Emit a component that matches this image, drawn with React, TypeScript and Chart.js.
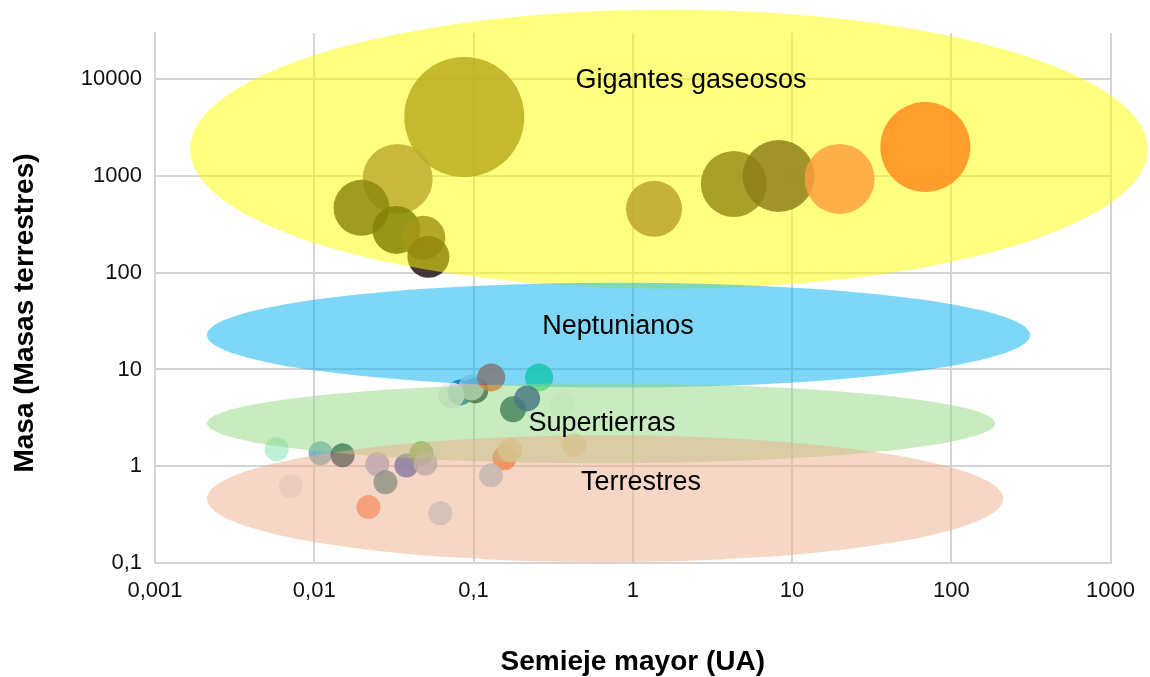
import React, { useEffect, useRef } from 'react';
import { Chart, registerables } from 'chart.js';

Chart.register(...registerables);

// Bubbles: semieje mayor (UA), masa (masas terrestres), radio (px)
const semiejeMayor = [
  0.0875, 0.0334, 0.0198, 0.0328, 0.0484, 0.0521, 1.36, 4.31, 8.24, 19.9, 68.7,
  0.0826, 0.1026, 0.0726, 0.0968, 0.129, 0.258, 0.177, 0.217, 0.36,
  0.429, 0.156, 0.17, 0.129, 0.00581, 0.01096, 0.01507, 0.00711, 0.0249,
  0.0379, 0.0471, 0.0499, 0.028, 0.0219, 0.0619,
];
const masa = [
  4060, 931, 468, 277, 230, 146, 457, 827, 1000, 931, 1990,
  5.79, 6.08, 5.4, 6.52, 8.27, 8.27, 3.87, 5.02, 4.26,
  1.65, 1.21, 1.46, 0.807, 1.5, 1.36, 1.3, 0.622, 1.05,
  1.02, 1.36, 1.07, 0.684, 0.378, 0.327,
];
const radio = [
  60, 35, 28, 24, 22, 21, 28, 33, 36, 35, 45,
  13, 13, 13, 13, 14, 14, 13, 13, 13,
  12, 12, 12, 12, 12, 12, 12, 12, 12,
  12, 12, 12, 12, 12, 12,
];
const colores = [
  'rgba(119,90,61,0.85)', 'rgba(126,90,96,0.85)', 'rgba(31,20,37,0.85)', 'rgba(8,8,14,0.85)',
  'rgba(73,49,49,0.85)', 'rgba(37,20,26,0.85)', 'rgba(120,73,90,0.85)', 'rgba(49,31,49,0.85)',
  'rgba(31,0,49,0.85)', 'rgba(249,67,126,0.85)', 'rgba(255,26,61,0.85)',
  'rgba(0,73,143,0.85)', 'rgba(0,26,26,0.85)', 'rgba(232,232,244,0.85)', 'rgba(214,207,214,0.85)',
  'rgba(255,66,2,0.85)', 'rgba(49,218,120,0.85)', 'rgba(0,55,62,0.85)', 'rgba(0,32,131,0.85)',
  'rgba(243,248,239,0.85)',
  'rgba(237,214,167,0.85)', 'rgba(255,96,14,0.85)', 'rgba(237,208,155,0.85)', 'rgba(155,196,214,0.85)',
  'rgba(178,237,208,0.85)', 'rgba(108,167,190,0.85)', 'rgba(0,49,61,0.85)', 'rgba(232,232,237,0.85)',
  'rgba(149,161,214,0.85)', 'rgba(43,79,179,0.85)', 'rgba(73,167,43,0.85)', 'rgba(149,173,190,0.85)',
  'rgba(55,126,131,0.85)', 'rgba(255,131,84,0.85)', 'rgba(178,208,226,0.85)',
];

const xTickValues = [0.001, 0.01, 0.1, 1, 10, 100, 1000];
const xTickLabels = ['0,001', '0,01', '0,1', '1', '10', '100', '1000'];
const yTickValues = [0.1, 1, 10, 100, 1000, 10000];
const yTickLabels = ['0,1', '1', '10', '100', '1000', '10000'];

// Regions (in data units)
const regionNames = ['Gigantes gaseosos', 'Neptunianos', 'Supertierras', 'Terrestres'];
const regionXMin = [0.00166, 0.00212, 0.00212, 0.00212];
const regionXMax = [1714, 312.6, 188.8, 212];
const regionYMin = [68.4, 6.52, 1.074, 0.102];
const regionYMax = [52500, 78.9, 7.18, 2.09];
const regionLabelX = [2.32, 0.807, 0.641, 1.125];
const regionLabelY = [9770, 27.8, 2.77, 0.684];
const regionColors = [
  'rgba(255,255,0,0.5)',
  'rgba(0,176,240,0.5)',
  'rgba(145,215,129,0.5)',
  'rgba(237,173,139,0.5)',
];

const FONT = '"Liberation Sans", Arial, sans-serif';
const GRID = '#d4d4d4';

const regionsPlugin = {
  id: 'regions',
  afterDatasetsDraw(chart: any) {
    const { ctx } = chart;
    const xs = chart.scales.x;
    const ys = chart.scales.y;
    ctx.save();
    for (let i = 0; i < regionNames.length; i++) {
      const x0 = xs.getPixelForValue(regionXMin[i]);
      const x1 = xs.getPixelForValue(regionXMax[i]);
      const y0 = ys.getPixelForValue(regionYMin[i]);
      const y1 = ys.getPixelForValue(regionYMax[i]);
      ctx.beginPath();
      ctx.ellipse((x0 + x1) / 2, (y0 + y1) / 2, Math.abs(x1 - x0) / 2, Math.abs(y1 - y0) / 2, 0, 0, Math.PI * 2);
      ctx.fillStyle = regionColors[i];
      ctx.fill();
    }
    ctx.font = `27px ${FONT}`;
    ctx.fillStyle = '#000';
    ctx.textAlign = 'center';
    ctx.textBaseline = 'middle';
    for (let i = 0; i < regionNames.length; i++) {
      ctx.fillText(regionNames[i], xs.getPixelForValue(regionLabelX[i]), ys.getPixelForValue(regionLabelY[i]));
    }
    // y axis title
    ctx.save();
    ctx.translate(25, 313);
    ctx.rotate(-Math.PI / 2);
    ctx.font = `bold 28px ${FONT}`;
    ctx.fillText('Masa (Masas terrestres)', 0, 0);
    ctx.restore();
    ctx.restore();
  },
};

export default function App() {
  const ref = useRef<HTMLCanvasElement | null>(null);
  useEffect(() => {
    if (!ref.current) return;
    const data = semiejeMayor.map((x, i) => ({ x, y: masa[i], r: radio[i] }));
    const chart = new Chart(ref.current, {
      type: 'bubble',
      data: {
        datasets: [
          {
            label: 'Exoplanetas',
            data,
            backgroundColor: colores,
            borderWidth: 0,
          },
        ],
      },
      options: {
        animation: false,
        responsive: false,
        devicePixelRatio: 1,
        layout: { autoPadding: false, padding: { top: 33, right: 37, left: 0, bottom: 0 } },
        plugins: { legend: { display: false }, tooltip: { enabled: false } },
        scales: {
          x: {
            type: 'logarithmic',
            min: 0.001,
            max: 1000,
            afterBuildTicks: (s: any) => {
              s.ticks = xTickValues.map((v) => ({ value: v }));
            },
            afterFit: (s: any) => {
              s.height = 114;
            },
            ticks: {
              callback: (_v: any, i: number) => xTickLabels[i],
              font: { size: 22, family: FONT },
              color: '#111',
              padding: 15,
              maxRotation: 0,
              autoSkip: false,
            },
            grid: { color: GRID, lineWidth: 2, drawTicks: false },
            border: { color: GRID, width: 2 },
            title: {
              display: true,
              text: 'Semieje mayor (UA)',
              font: { size: 28, weight: 'bold', family: FONT },
              color: '#000',
              padding: { top: 0, bottom: -2 },
            },
          },
          y: {
            type: 'logarithmic',
            min: 0.1,
            max: 30000,
            afterBuildTicks: (s: any) => {
              s.ticks = yTickValues.map((v) => ({ value: v }));
            },
            afterFit: (s: any) => {
              s.width = 155;
            },
            ticks: {
              callback: (_v: any, i: number) => yTickLabels[i],
              font: { size: 22, family: FONT },
              color: '#111',
              padding: 13,
              autoSkip: false,
            },
            grid: { color: GRID, lineWidth: 2, drawTicks: false },
            border: { color: GRID, width: 2 },
          },
        },
      },
      plugins: [regionsPlugin],
    } as any);
    return () => chart.destroy();
  }, []);
  return (
    <div style={{ position: 'fixed', left: 0, top: 0, width: 1150, height: 677, background: '#fff' }}>
      <canvas ref={ref} width={1150} height={677} />
    </div>
  );
}
